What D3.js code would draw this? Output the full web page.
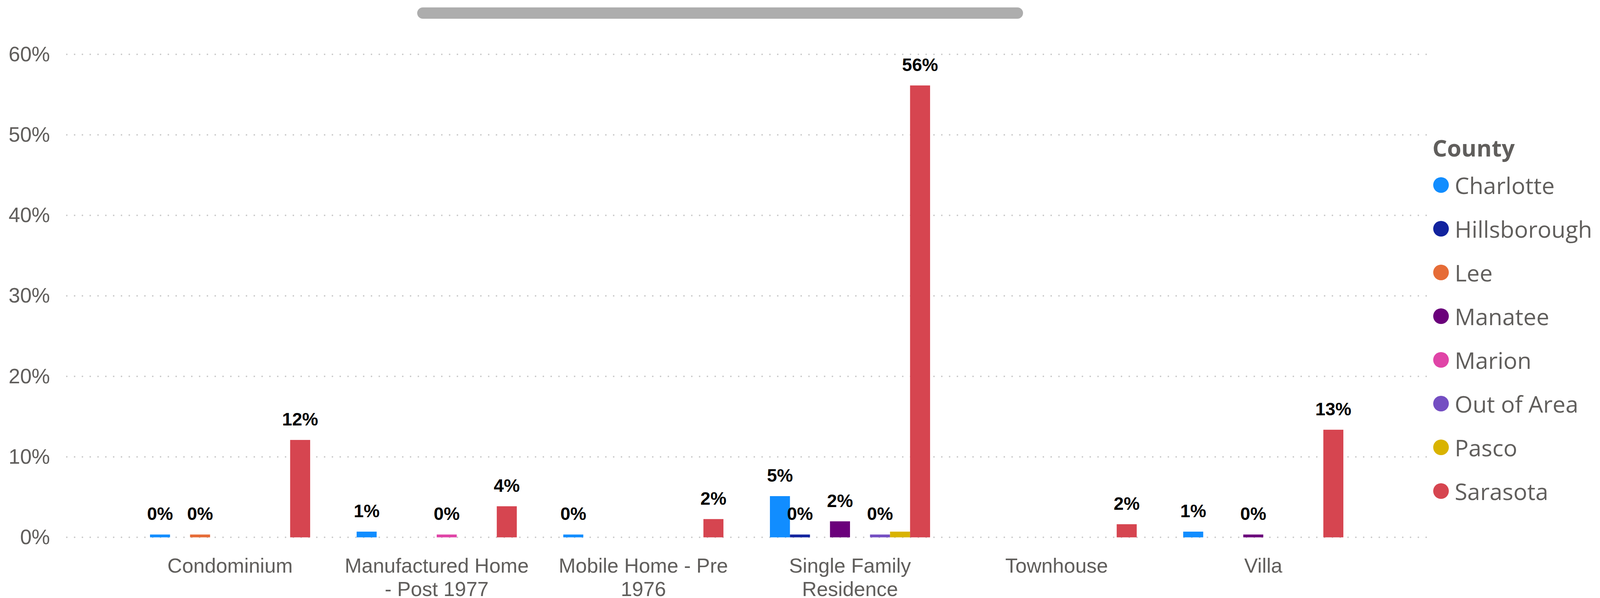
<!DOCTYPE html>
<html>
<head>
<meta charset="utf-8">
<script src="https://cdnjs.cloudflare.com/ajax/libs/d3/7.8.5/d3.min.js"></script>
<style>
  html, body { margin: 0; padding: 0; background: #ffffff; }
  svg { display: block; }
</style>
</head>
<body>
<svg id="chart" width="4128" height="1532"></svg>
<script>
// ---------------- DATA ----------------
const categories = [
  "Condominium",
  "Manufactured Home - Post 1977",
  "Mobile Home - Pre 1976",
  "Single Family Residence",
  "Townhouse",
  "Villa"
];
const counties = ["Charlotte", "Hillsborough", "Lee", "Manatee", "Marion", "Out of Area", "Pasco", "Sarasota"];
const countyColors = ["#118DFF", "#12239E", "#E66C37", "#6B007B", "#E044A7", "#744EC2", "#D9B300", "#D64550"];

// share of listings per category (null = no bar)
const charlotte    = [0.0035, 0.0071, 0.0035, 0.0512, null,   0.0071];
const hillsborough = [null,   null,   null,   0.0035, null,   null];
const lee          = [0.0035, null,   null,   null,   null,   null];
const manatee      = [null,   null,   null,   0.0199, null,   0.0035];
const marion       = [null,   0.0035, null,   null,   null,   null];
const outOfArea    = [null,   null,   null,   0.0035, null,   null];
const pasco        = [null,   null,   null,   0.0071, null,   null];
const sarasota     = [0.1210, 0.0386, 0.0227, 0.5614, 0.0163, 0.1337];

const yTicks = [0, 0.1, 0.2, 0.3, 0.4, 0.5, 0.6];
const legendTitle = "County";
// data labels the original hides because of overlap
const hiddenLabels = [["Single Family Residence", "Pasco"]];

// ---------------- BUILD ----------------
const seriesValues = [charlotte, hillsborough, lee, manatee, marion, outOfArea, pasco, sarasota];
const rows = [];
categories.forEach((cat, ci) => {
  counties.forEach((county, si) => {
    const v = seriesValues[si][ci];
    if (v !== null && v !== undefined) rows.push({ category: cat, county, value: v });
  });
});

const svg = d3.select("#chart");
const textGray = "#605E5C";

const x0 = d3.scaleBand()
  .domain(categories)
  .range([324.5, 3498.5])
  .paddingInner(0.225)
  .paddingOuter(0.1125);

const x1 = d3.scaleBand()
  .domain(counties)
  .range([0, x0.bandwidth()])
  .padding(0);

const y = d3.scaleLinear().domain([0, 0.6]).range([1376.6, 139.3]);

const color = d3.scaleOrdinal().domain(counties).range(countyColors);

// scrollbar
svg.append("rect")
  .attr("x", 1068).attr("y", 19)
  .attr("width", 2619 - 1068).attr("height", 29)
  .attr("rx", 14.5).attr("ry", 14.5)
  .attr("fill", "#adadad");

// gridlines (dotted)
svg.append("g").attr("class", "grid")
  .selectAll("line")
  .data(yTicks)
  .join("line")
  .attr("x1", 171).attr("x2", 3652)
  .attr("y1", d => y(d)).attr("y2", d => y(d))
  .attr("stroke", "#c8c8c8")
  .attr("stroke-width", 4)
  .attr("stroke-linecap", "round")
  .attr("stroke-dasharray", "0 20");

// y axis
const yAxis = svg.append("g")
  .attr("transform", "translate(128,0)")
  .call(d3.axisLeft(y).tickValues(yTicks).tickSize(0).tickPadding(0).tickFormat(d3.format(".0%")));
yAxis.select(".domain").remove();
yAxis.selectAll("text")
  .attr("fill", textGray)
  .attr("font-family", "'Liberation Sans', Arial, sans-serif")
  .attr("font-size", 53)
  .attr("dy", "0.32em");

// x axis
const xAxis = svg.append("g")
  .attr("transform", "translate(0,1467)")
  .call(d3.axisBottom(x0).tickSize(0).tickPadding(0));
xAxis.select(".domain").remove();
xAxis.selectAll("text")
  .attr("fill", textGray)
  .attr("font-family", "'Liberation Sans', Arial, sans-serif")
  .attr("font-size", 52)
  .attr("y", 0)
  .attr("dy", 0)
  .call(wrap, 490, 60);

function wrap(texts, width, lineHeight) {
  texts.each(function () {
    const text = d3.select(this);
    const words = text.text().split(/\s+/);
    text.text(null);
    let line = [];
    let lineNo = 0;
    let tspan = text.append("tspan").attr("x", 0).attr("y", 0);
    words.forEach(word => {
      line.push(word);
      tspan.text(line.join(" "));
      if (tspan.node().getComputedTextLength() > width && line.length > 1) {
        line.pop();
        tspan.text(line.join(" "));
        line = [word];
        lineNo += 1;
        tspan = text.append("tspan").attr("x", 0).attr("y", lineNo * lineHeight).text(word);
      }
    });
  });
}

// bars
const groups = svg.append("g").attr("class", "bars")
  .selectAll("g")
  .data(categories)
  .join("g")
  .attr("transform", d => `translate(${x0(d)},0)`);

groups.selectAll("rect")
  .data(cat => rows.filter(r => r.category === cat))
  .join("rect")
  .attr("x", d => x1(d.county))
  .attr("width", x1.bandwidth())
  .attr("y", d => y(d.value))
  .attr("height", d => y(0) - y(d.value))
  .attr("fill", d => color(d.county));

// data labels
const isHidden = d => hiddenLabels.some(h => h[0] === d.category && h[1] === d.county);
groups.selectAll("text")
  .data(cat => rows.filter(r => r.category === cat && !isHidden(r)))
  .join("text")
  .attr("x", d => x1(d.county) + x1.bandwidth() / 2)
  .attr("y", d => y(d.value) - 37)
  .attr("text-anchor", "middle")
  .attr("font-family", "'Liberation Sans', Arial, sans-serif")
  .attr("font-weight", "bold")
  .attr("font-size", 46)
  .attr("fill", "#000000")
  .text(d => d3.format(".0%")(d.value));

// legend
const legend = svg.append("g").attr("class", "legend");
legend.append("text")
  .attr("x", 3667).attr("y", 401)
  .attr("font-family", "'Segoe UI', 'Open Sans', sans-serif")
  .attr("font-weight", "bold")
  .attr("font-size", 59)
  .attr("fill", textGray)
  .text(legendTitle);

const items = legend.selectAll("g.item")
  .data(counties)
  .join("g")
  .attr("class", "item")
  .attr("transform", (d, i) => `translate(0,${474 + i * 112})`);
items.append("circle")
  .attr("cx", 3689).attr("cy", 0).attr("r", 20)
  .attr("fill", d => color(d));
items.append("text")
  .attr("x", 3724).attr("y", 23)
  .attr("font-family", "'Segoe UI', 'Open Sans', sans-serif")
  .attr("font-size", 59)
  .attr("fill", textGray)
  .text(d => d);
</script>
</body>
</html>
